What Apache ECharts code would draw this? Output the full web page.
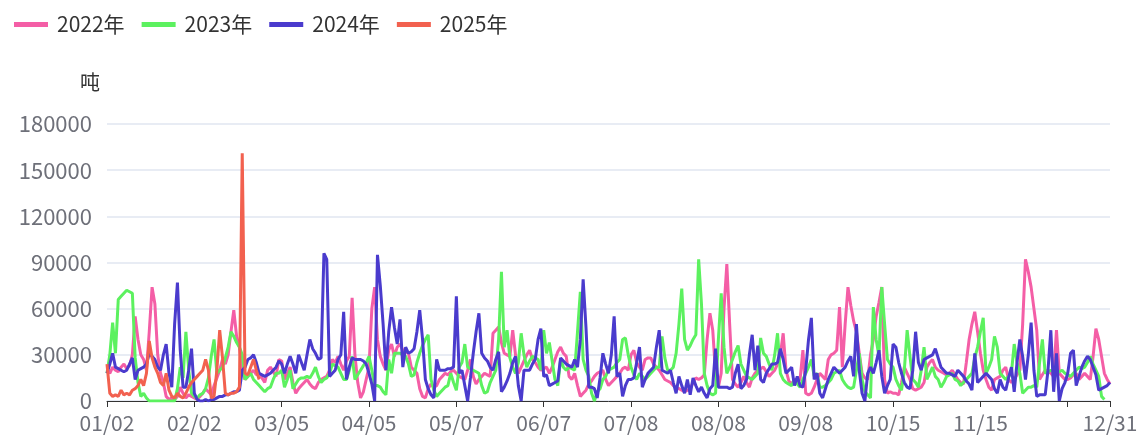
<!DOCTYPE html>
<html>
<head>
<meta charset="utf-8">
<script src="https://cdn.jsdelivr.net/npm/echarts@6/dist/echarts.min.js"></script>
<style>
html,body{margin:0;padding:0;background:#fff;}
#chart{width:1144px;height:441px;}
</style>
</head>
<body>
<div id="chart"></div>
<script>
// Categories: calendar days (mm/dd) 01/02 .. 12/31, without the days absent from the source
const monthDays = [31,28,31,30,31,30,31,31,30,31,30,31];
const skipDates = ['01/01','05/01','10/01','10/02','10/03','10/04','10/05','10/06'];
const categories = [];
for (let m = 1; m <= 12; m++) {
  for (let d = 1; d <= monthDays[m - 1]; d++) {
    const s = String(m).padStart(2, '0') + '/' + String(d).padStart(2, '0');
    if (skipDates.indexOf(s) < 0) categories.push(s);
  }
}

const seriesNames = ['2022年', '2023年', '2024年', '2025年'];
const yTicks = [0, 30000, 60000, 90000, 120000, 150000, 180000];

const data2022 = [
20000,18000,22000,20000,19000,22000,24000,21000,23000,30000,
55000,40000,30000,27000,20000,45000,74000,63000,30000,18000,
12000,3000,1000,2000,1000,3000,9000,5000,2000,4000,
3000,2000,1000,3000,5000,8000,6000,4000,10000,15000,
20000,27000,24000,30000,45000,59000,42000,35000,20000,14000,
16000,18000,20000,17000,18000,15000,12000,20000,22000,19000,
16000,27000,26000,14000,18000,22000,12000,5000,8000,10000,
12000,14000,11000,9000,8000,12000,14000,15000,16000,20000,
27000,25000,29000,24000,20000,26000,29000,67000,30000,12000,
2000,6000,14000,22000,60000,74000,40000,29000,24000,20000,
33000,37000,29000,35000,37000,33000,32000,31000,22000,20000,
18000,8000,3000,2000,8000,11000,9000,10000,14000,16000,
18000,17000,19000,20000,18000,16000,15000,14000,20000,27000,
16000,11000,14000,16000,18000,17000,16000,44000,46000,48000,
38000,31000,30000,29000,46000,30000,18000,22000,26000,30000,
33000,27000,25000,22000,20000,21000,22000,18000,22000,27000,
32000,35000,31000,29000,16000,14000,18000,10000,3000,5000,
7000,11000,13000,16000,18000,19000,20000,14000,10000,12000,
14000,16000,18000,21000,22000,20000,30000,33000,25000,22000,
20000,27000,28000,28000,24000,22000,20000,17000,14000,13000,
12000,10000,9000,8000,7000,6000,7000,8000,12000,15000,
14000,15000,17000,40000,57000,46000,18000,9000,18000,60000,
89000,50000,14000,11000,9000,12000,16000,12000,9000,15000,
18000,20000,21000,22000,19000,16000,18000,20000,24000,30000,
44000,20000,13000,11000,14000,13000,14000,33000,5000,4000,
5000,9000,14000,18000,16000,14000,27000,30000,31000,33000,
61000,22000,50000,74000,62000,52000,45000,31000,18000,15000,
14000,30000,40000,55000,64000,74000,14000,5000,6000,5000,
5000,4000,12000,22000,18000,14000,8000,7000,8000,9000,
12000,22000,25000,27000,22000,20000,19000,18000,17000,18000,
20000,17000,14000,12000,11000,25000,40000,50000,58000,45000,
31000,20000,14000,9000,7000,14000,15000,16000,20000,22000,
14000,12000,14000,17000,20000,50000,92000,84000,74000,60000,
46000,14000,17000,20000,19000,18000,16000,46000,18000,16000,
14000,14000,15000,17000,18000,14000,16000,18000,16000,14000,
29000,47000,40000,29000,18000,14000,11000
];

const data2023 = [
18000,30000,51000,31000,66000,68000,70000,72000,71000,70000,
28000,12000,3000,5000,2000,0,0,0,0,0,
0,0,0,0,0,8000,22000,15000,45000,20000,
5000,3000,2000,4000,5000,8000,15000,29000,40000,18000,
20000,22000,28000,35000,45000,42000,38000,35000,30000,14000,
16000,18000,14000,12000,10000,8000,6000,8000,9000,14000,
18000,18000,20000,9000,14000,20000,8000,11000,14000,15000,
15000,16000,15000,18000,22000,16000,12000,14000,15000,18000,
24000,23000,22000,18000,14000,14000,20000,29000,14000,17000,
20000,23000,25000,29000,20000,10000,10000,9000,6000,4000,
27000,18000,31000,31000,31000,30000,29000,24000,16000,17000,
25000,31000,36000,40000,43000,14000,7000,3000,5000,7000,
9000,10000,18000,12000,7000,22000,25000,37000,22000,21000,
20000,19000,18000,10000,5000,6000,12000,16000,20000,40000,
84000,35000,46000,28000,22000,18000,25000,44000,30000,22000,
26000,29000,28000,27000,20000,46000,31000,38000,26000,14000,
10000,27000,22000,20000,22000,21000,20000,45000,71000,27000,
20000,16000,5000,0,6000,8000,14000,16000,20000,21000,
22000,25000,27000,40000,41000,30000,22000,17000,14000,18000,
16000,14000,16000,18000,20000,22000,22000,42000,28000,20000,
20000,22000,31000,50000,73000,40000,33000,36000,40000,43000,
92000,63000,18000,10000,5000,4000,5000,40000,70000,35000,
18000,22000,27000,32000,36000,24000,20000,16000,15000,14000,
16000,18000,41000,31000,29000,24000,20000,30000,44000,18000,
14000,12000,11000,10000,14000,11000,9000,14000,18000,22000,
27000,16000,18000,9000,9000,10000,12000,14000,18000,19000,
20000,14000,11000,9000,8000,9000,20000,31000,14000,6000,
4000,2000,61000,40000,29000,74000,50000,27000,24000,22000,
14000,10000,7000,20000,46000,29000,14000,12000,9000,20000,
35000,14000,18000,22000,16000,14000,9000,12000,16000,17000,
18000,14000,13000,10000,12000,14000,16000,18000,28000,35000,
45000,54000,18000,22000,27000,42000,35000,18000,16000,14000,
16000,18000,37000,25000,18000,5000,7000,9000,9000,10000,
9000,25000,40000,18000,19000,20000,19000,18000,19000,20000,
18000,17000,16000,18000,20000,22000,21000,22000,25000,29000,
24000,20000,16000,3000,1000
];

const data2024 = [
18000,24000,31000,22000,21000,20000,19000,20000,24000,28000,
14000,20000,21000,22000,24000,31000,29000,27000,22000,20000,
30000,37000,18000,9000,50000,77000,33000,9000,9000,20000,
34000,5000,1000,0,0,1000,0,1000,1000,2000,
3000,3000,4000,4000,5000,6000,6000,7000,20000,22000,
27000,28000,30000,25000,18000,17000,16000,17000,18000,20000,
22000,26000,24000,18000,24000,29000,24000,18000,30000,25000,
20000,30000,40000,34000,31000,27000,28000,96000,92000,16000,
18000,20000,27000,30000,58000,14000,22000,28000,27000,27000,
27000,26000,24000,18000,11000,0,95000,75000,50000,20000,
45000,61000,48000,37000,53000,22000,35000,31000,32000,34000,
45000,59000,40000,14000,8000,4000,2000,27000,20000,20000,
20000,21000,21000,22000,68000,18000,20000,10000,0,15000,
31000,45000,57000,31000,28000,26000,22000,20000,27000,32000,
6000,9000,13000,18000,25000,29000,10000,0,20000,20000,
20000,24000,27000,40000,47000,16000,17000,10000,11000,12000,
13000,28000,26000,24000,23000,22000,27000,22000,40000,79000,
48000,9000,9000,8000,2000,15000,31000,24000,18000,30000,
55000,16000,18000,3000,10000,14000,14000,15000,25000,35000,
9000,14000,18000,20000,22000,35000,46000,20000,19000,18000,
20000,12000,5000,16000,10000,5000,14000,4000,15000,10000,
6000,9000,5000,2000,8000,10000,34000,9000,9000,9000,
9000,8000,9000,18000,24000,8000,10000,14000,30000,43000,
20000,36000,14000,12000,18000,21000,24000,24000,25000,34000,
27000,18000,20000,22000,10000,16000,10000,9000,20000,40000,
54000,14000,18000,5000,2000,8000,14000,18000,22000,20000,
18000,20000,22000,26000,29000,16000,50000,20000,5000,0,
18000,22000,18000,25000,33000,16000,5000,10000,14000,37000,
35000,25000,18000,12000,9000,8000,20000,45000,25000,20000,
27000,28000,29000,30000,34000,28000,22000,20000,18000,18000,
17000,16000,20000,18000,16000,13000,11000,7000,31000,12000,
14000,16000,18000,16000,14000,8000,5000,14000,9000,7000,
15000,22000,6000,25000,40000,29000,14000,30000,51000,20000,
3000,4000,4000,4000,20000,46000,6000,31000,0,8000,
12000,18000,31000,33000,10000,16000,22000,26000,29000,27000,
22000,17000,7000,8000,9000,10000,12000
];

const data2025 = [
24000,5000,3000,4000,3000,7000,4000,5000,4000,7000,
8000,10000,14000,10000,18000,39000,28000,22000,18000,12000,
10000,18000,7000,3000,2000,5000,3000,2000,5000,9000,
12000,14000,16000,18000,20000,27000,20000,2000,3000,20000,
46000,28000,5000,4000,5000,5000,6000,9000,161000,18000,
17000,22000,27000,20000,14000
];

const colors = ['#F45EA6', '#5CF15F', '#4A3BCD', '#F2614F'];
const FONT = '"Noto Sans CJK SC", "Noto Sans", sans-serif';
const lastIndex = categories.length - 1;

const chart = echarts.init(document.getElementById('chart'), null, {renderer: 'canvas'});
const allData = [data2022, data2023, data2024, data2025];

chart.setOption({
  animation: false,
  color: colors,
  textStyle: {fontFamily: FONT},
  legend: {
    left: 9, top: 9,
    icon: 'rect',
    itemWidth: 34, itemHeight: 5, itemGap: 17,
    textStyle: {fontSize: 21, color: '#333', fontFamily: FONT, padding: [0, 0, 0, 4]},
    data: seriesNames
  },
  grid: {left: 107, right: 34, top: 124, bottom: 40, containLabel: false},
  xAxis: {
    type: 'category',
    boundaryGap: false,
    data: categories,
    axisLine: {lineStyle: {color: '#333', width: 1}},
    axisTick: {
      show: true, length: 6, lineStyle: {color: '#333'},
      interval: function (i) { return i % 31 === 0 || i === lastIndex; }
    },
    axisLabel: {
      fontSize: 21, color: '#6E7079', margin: 12, fontFamily: FONT,
      interval: function (i) { return (i % 31 === 0 && i < lastIndex - 20) || i === lastIndex; }
    }
  },
  yAxis: {
    type: 'value',
    min: yTicks[0], max: yTicks[yTicks.length - 1], interval: yTicks[1] - yTicks[0],
    name: '吨',
    nameGap: 32,
    nameTextStyle: {fontSize: 20, color: '#333', align: 'right', padding: [0, 7, 0, 0], fontFamily: FONT},
    axisLine: {show: false},
    axisTick: {show: false},
    axisLabel: {
      fontSize: 22, color: '#6E7079', margin: 15, fontFamily: FONT,
      formatter: function (v) { return String(v); }
    },
    splitLine: {lineStyle: {color: '#E0E6F1', width: 1.5}}
  },
  series: seriesNames.map(function (n, k) {
    return {
      name: n,
      type: 'line',
      data: allData[k],
      symbol: 'none',
      showSymbol: false,
      lineStyle: {width: 3, color: colors[k]},
      itemStyle: {color: colors[k]}
    };
  })
});
</script>
</body>
</html>
